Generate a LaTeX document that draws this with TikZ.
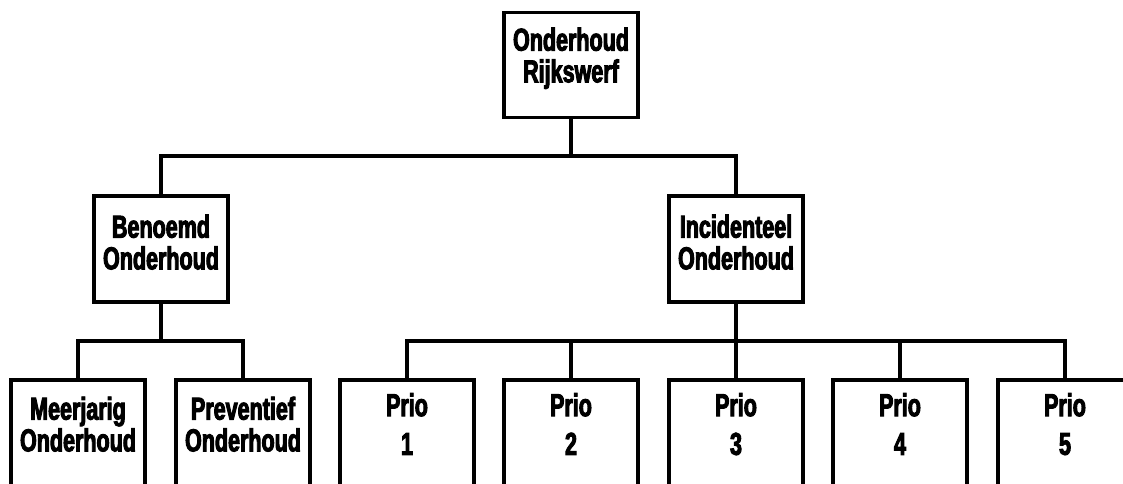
\documentclass[tikz,border=0pt]{standalone}
\usepackage{fontspec}
\newfontfamily\orgfont{Liberation Sans Bold}[FakeStretch=0.68, FakeBold=3]
\usepackage{tikz}

\begin{document}
\begin{tikzpicture}[
      x=0.025cm, y=-0.025cm,
      line width=2.4pt,
      every node/.style={font=\orgfont\fontsize{22.5}{22.5}\selectfont},
      unit/.style={draw, rectangle, align=center, minimum width=3.35cm, inner sep=0pt},
      headbox/.style={unit, minimum height=2.625cm, text depth=0.5cm},
      midbox/.style={unit, minimum height=2.65cm, text depth=0.35cm},
      leafbox/.style={unit, minimum height=2.75cm, text depth=0.55cm},
    ]
  \useasboundingbox (0,0) rectangle (1123,483);

  \node[headbox] (top) at (571,65)  {Onderhoud\\Rijkswerf};
  \node[midbox]  (ben) at (161,249) {Benoemd\\Onderhoud};
  \node[midbox]  (inc) at (736,249) {Incidenteel\\Onderhoud};

  \node[leafbox] (mee) at (78,435)  {Meerjarig\\Onderhoud};
  \node[leafbox] (pre) at (243,435) {Preventief\\Onderhoud};
  \foreach \i/\x in {1/407, 2/571, 3/736, 4/900, 5/1065}
    \node[leafbox] (prio\i) at (\x,435) {Prio\\[5pt]\i};

  % junction points on the bars
  \coordinate (j0) at (571,156);
  \coordinate (j1) at (161,341);
  \coordinate (j2) at (736,341);

  \draw (top.south) -- (j0);
  \draw (ben.north) |- (j0) -| (inc.north);

  \draw (ben.south) -- (j1);
  \draw (mee.north) |- (j1) -| (pre.north);

  \draw (inc.south) -- (j2);
  \draw (prio1.north) |- (j2) -| (prio5.north);
  \foreach \i in {2,3,4}
    \draw (prio\i.north) -- (prio\i.north |- j2);
\end{tikzpicture}
\end{document}
